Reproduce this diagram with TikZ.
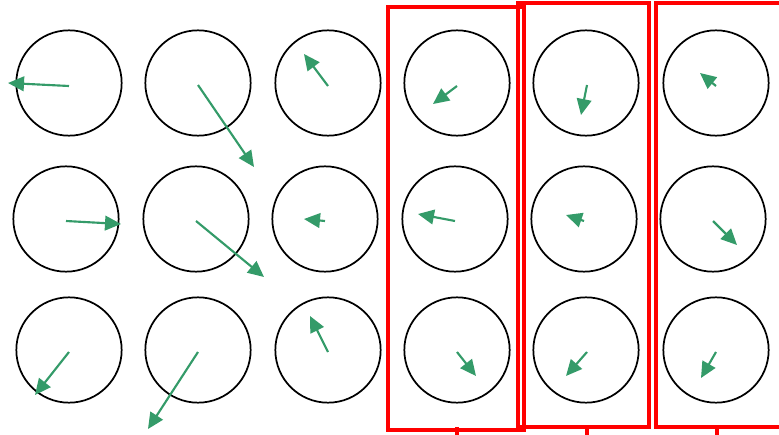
\documentclass[tikz,border=0pt]{standalone}
\usetikzlibrary{arrows.meta}
\definecolor{vecgreen}{RGB}{52,155,105}
\begin{document}
\begin{tikzpicture}[x=0.75pt, y=-0.75pt]
    \useasboundingbox (0,0) rectangle (779,435);
    \begin{scope}[
            every node/.style={circle, draw, line width=1.3pt, minimum size=79pt, inner sep=0pt},
            vec/.style={draw=vecgreen, line width=1.6pt, -{Triangle[length=12pt, width=11pt]}}
        ]

        % first row
        \node (c11) at (69,83) {};
        \node (c12) at (198,83) {};
        \node (c13) at (328,83) {};
        \node (c14) at (457,83) {};
        \node (c15) at (586,83) {};
        \node (c16) at (716,83) {};

        % second row
        \node (c21) at (66,219) {};
        \node (c22) at (196,219) {};
        \node (c23) at (325,219) {};
        \node (c24) at (455,219) {};
        \node (c25) at (584,219) {};
        \node (c26) at (713,219) {};

        % third row
        \node (c31) at (69,350) {};
        \node (c32) at (198,350) {};
        \node (c33) at (328,350) {};
        \node (c34) at (457,350) {};
        \node (c35) at (586,350) {};
        \node (c36) at (716,350) {};

        % tails and heads of the vectors
        \coordinate (a11) at (69,86);   \coordinate (b11) at (8,83);
        \coordinate (a12) at (198,85);  \coordinate (b12) at (254,167);
        \coordinate (a13) at (328,86);  \coordinate (b13) at (304,54);
        \coordinate (a14) at (457,86);  \coordinate (b14) at (433,104);
        \coordinate (a15) at (587,85);  \coordinate (b15) at (581,115);
        \coordinate (a16) at (716,86);  \coordinate (b16) at (700,73);

        \coordinate (a21) at (66,221);  \coordinate (b21) at (121,224);
        \coordinate (a22) at (196,221); \coordinate (b22) at (264,277);
        \coordinate (a23) at (325,221); \coordinate (b23) at (304,219);
        \coordinate (a24) at (455,221); \coordinate (b24) at (418,214);
        \coordinate (a25) at (584,221); \coordinate (b25) at (566,215);
        \coordinate (a26) at (713,221); \coordinate (b26) at (737,245);

        \coordinate (a31) at (69,352);  \coordinate (b31) at (35,395);
        \coordinate (a32) at (198,352); \coordinate (b32) at (148,429);
        \coordinate (a33) at (328,352); \coordinate (b33) at (310,316);
        \coordinate (a34) at (457,352); \coordinate (b34) at (476,376);
        \coordinate (a35) at (587,352); \coordinate (b35) at (566,376);
        \coordinate (a36) at (716,352); \coordinate (b36) at (701,378);

        \draw[vec] (a11) -- (b11);
        \draw[vec] (a12) -- (b12);
        \draw[vec] (a13) -- (b13);
        \draw[vec] (a14) -- (b14);
        \draw[vec] (a15) -- (b15);
        \draw[vec] (a16) -- (b16);

        \draw[vec] (a21) -- (b21);
        \draw[vec] (a22) -- (b22);
        \draw[vec] (a23) -- (b23);
        \draw[vec] (a24) -- (b24);
        \draw[vec] (a25) -- (b25);
        \draw[vec] (a26) -- (b26);

        \draw[vec] (a31) -- (b31);
        \draw[vec] (a32) -- (b32);
        \draw[vec] (a33) -- (b33);
        \draw[vec] (a34) -- (b34);
        \draw[vec] (a35) -- (b35);
        \draw[vec] (a36) -- (b36);
    \end{scope}

    % column frames
    \begin{scope}[red, line width=3pt]
        \draw (388,7) rectangle (524,430);
        \draw (517.5,3) rectangle (648.5,427);
        \draw (655.5,3) rectangle (800,427);
        \draw[line width=2.6pt] (457,427) -- (457,440);
        \draw[line width=2.6pt] (587,427) -- (587,440);
        \draw[line width=2.6pt] (717,427) -- (717,440);
    \end{scope}
\end{tikzpicture}
\end{document}
